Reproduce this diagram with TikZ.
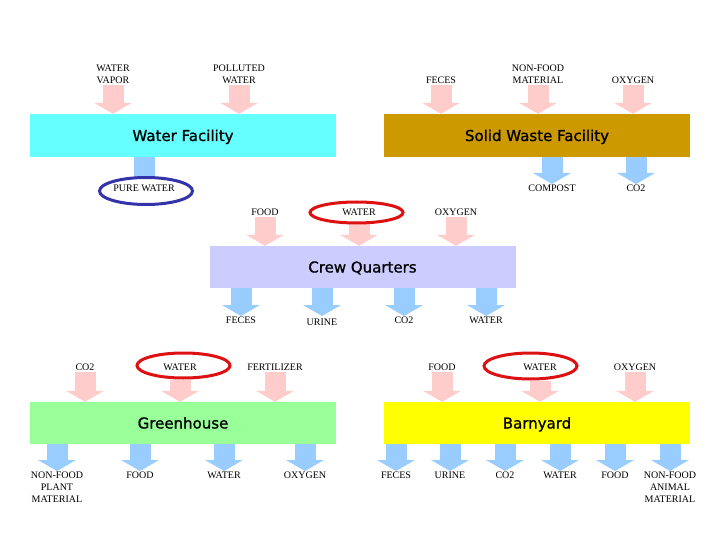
\documentclass[tikz,border=0pt]{standalone}
\usepackage{fontspec}
\setmainfont{Liberation Serif}
\newfontfamily\ecotitlefont[FakeBold=1]{DejaVu Sans}
\usepackage{xcolor}
\usepackage{tikz}
\usetikzlibrary{positioning,arrows.meta,shapes.geometric,backgrounds,calc}
\definecolor{ecoWater}{RGB}{102,255,255}
\definecolor{ecoWaste}{RGB}{204,153,0}
\definecolor{ecoCrew}{RGB}{204,204,255}
\definecolor{ecoGreen}{RGB}{153,255,153}
\definecolor{ecoBarn}{RGB}{255,255,0}
\definecolor{ecoIn}{RGB}{255,204,204}
\definecolor{ecoOut}{RGB}{153,204,255}
\definecolor{ecoRed}{RGB}{221,17,17}
\definecolor{ecoBlue}{RGB}{51,51,170}
\tikzset{
  eco/box/.style={rectangle, minimum width=306pt, minimum height=43pt, inner sep=0pt,
                  text height=11pt, text depth=0pt,
                  font=\ecotitlefont\fontsize{15}{18}\selectfont},
  eco/lbl/.style={font=\fontsize{10}{12}\selectfont, align=center, inner sep=1pt},
  eco/in lbl/.style={eco/lbl, anchor=south},
  eco/out lbl/.style={eco/lbl, anchor=north},
  eco/in arrow/.style={draw=ecoIn, line width=21pt,
                       -{Triangle[length=11pt, width=38pt, line width=0pt]}},
  eco/out arrow/.style={eco/in arrow, draw=ecoOut},
  eco/ring/.style={ellipse, draw=ecoRed, line width=3pt, minimum width=93pt,
                   minimum height=24pt, inner sep=0pt},
}

\begin{document}
\begin{tikzpicture}[x=1pt, y=-1pt]
  \useasboundingbox (0,0) rectangle (720,540);

  % ---------------- facilities ----------------
  \node[eco/box, fill=ecoWater] (water) at (183,135.5) {Water Facility};
  \node[eco/box, fill=ecoWaste] (waste) at (537,135.5) {Solid Waste Facility};
  \node[eco/box, fill=ecoCrew, minimum height=42pt] (crew) at (362.5,267) {Crew Quarters};
  \node[eco/box, fill=ecoGreen, minimum height=42pt] (green) at (183,423) {Greenhouse};
  \node[eco/box, fill=ecoBarn, minimum height=42pt] (barn) at (537,423) {Barnyard};

  % ---------------- highlight rings ----------------
  \node[eco/ring, draw=ecoBlue, fill=white, minimum height=27pt] (ringPure) at (146,191) {};
  \node[eco/ring, minimum height=21pt] (ringCrew) at (356.5,212.5) {};
  \node[eco/ring, minimum height=25pt] (ringGreen) at (183.5,365.5) {};
  \node[eco/ring, minimum height=26pt] (ringBarn) at (530.5,366) {};

  % ---------------- water / solid waste labels ----------------
  \node[eco/in lbl] (wfVapor) at (113,85) {WATER\\VAPOR};
  \node[eco/in lbl] (wfPolluted) at (239,85) {POLLUTED\\WATER};
  \node[eco/in lbl] (swFeces) at (441,85) {FECES};
  \node[eco/in lbl] (swNonFood) at (538,85) {NON-FOOD\\MATERIAL};
  \node[eco/in lbl] (swOxygen) at (633,85) {OXYGEN};

  \node[eco/out lbl] (wfPure) at (144,184) {PURE WATER};
  \node[eco/out lbl] (swCompost) at (552,184) {COMPOST};
  \node[eco/out lbl] (swCO) at (636,184) {CO2};

  % ---------------- crew quarters labels ----------------
  \node[eco/in lbl] (cqFood) at (265,217) {FOOD};
  \node[eco/in lbl] (cqWater) at (359,217) {WATER};
  \node[eco/in lbl] (cqOxygen) at (456,217) {OXYGEN};

  \node[eco/out lbl] (cqFeces) at (241,316) {FECES};
  \node[eco/out lbl] (cqUrine) at (322,318) {URINE};
  \node[eco/out lbl] (cqCO) at (404,316) {CO2};
  \node[eco/out lbl] (cqWaterOut) at (486,316) {WATER};

  % ---------------- greenhouse labels ----------------
  \node[eco/in lbl] (ghCO) at (85,372) {CO2};
  \node[eco/in lbl] (ghWater) at (180,372) {WATER};
  \node[eco/in lbl] (ghFert) at (275,372) {FERTILIZER};

  \node[eco/out lbl] (ghNonFood) at (57,471) {NON-FOOD\\PLANT\\MATERIAL};
  \node[eco/out lbl] (ghFood) at (140,471) {FOOD};
  \node[eco/out lbl] (ghWaterOut) at (224,471) {WATER};
  \node[eco/out lbl] (ghOxygen) at (305,471) {OXYGEN};

  % ---------------- barnyard labels ----------------
  \node[eco/in lbl] (byFood) at (442,372) {FOOD};
  \node[eco/in lbl] (byWater) at (540,372) {WATER};
  \node[eco/in lbl] (byOxygen) at (635,372) {OXYGEN};

  \node[eco/out lbl] (byFeces) at (396,471) {FECES};
  \node[eco/out lbl] (byUrine) at (450,471) {URINE};
  \node[eco/out lbl] (byCO) at (505,471) {CO2};
  \node[eco/out lbl] (byWaterOut) at (560,471) {WATER};
  \node[eco/out lbl] (byFoodOut) at (615,471) {FOOD};
  \node[eco/out lbl] (byNonFood) at (670,471) {NON-FOOD\\ANIMAL\\MATERIAL};

  % ---------------- block arrows (behind everything) ----------------
  \begin{scope}[on background layer]
    \fill[white] (0,0) rectangle (720,540);

    \draw[eco/in arrow] (wfVapor) -- (water.north -| wfVapor);
    \draw[eco/in arrow] (wfPolluted) -- (water.north -| wfPolluted);
    \draw[eco/in arrow] (swFeces) -- (waste.north -| swFeces);
    \draw[eco/in arrow] (swNonFood) -- (waste.north -| swNonFood);
    \draw[eco/in arrow] (swOxygen) -- (waste.north -| swOxygen);
    % head hidden under the blue ring, as drawn
    \draw[eco/out arrow] (water.south -| wfPure) -- (wfPure.center);
    \draw[eco/out arrow] (waste.south -| swCompost) -- (swCompost);
    \draw[eco/out arrow] (waste.south -| swCO) -- (swCO);

    \draw[eco/in arrow] (cqFood) -- (crew.north -| cqFood);
    \draw[eco/in arrow] (ringCrew.south -| cqWater) -- (crew.north -| cqWater);
    \draw[eco/in arrow] (cqOxygen) -- (crew.north -| cqOxygen);
    \draw[eco/out arrow] (crew.south -| cqFeces) -- (cqFeces);
    \draw[eco/out arrow] (crew.south -| cqUrine) -- ([yshift=2pt]cqUrine.north);
    \draw[eco/out arrow] (crew.south -| cqCO) -- (cqCO);
    \draw[eco/out arrow] (crew.south -| cqWaterOut) -- (cqWaterOut);

    \draw[eco/in arrow] (ghCO) -- (green.north -| ghCO);
    \draw[eco/in arrow] (ringGreen.south -| ghWater) -- (green.north -| ghWater);
    \draw[eco/in arrow] (ghFert) -- (green.north -| ghFert);
    \draw[eco/out arrow] (green.south -| ghNonFood) -- (ghNonFood);
    \draw[eco/out arrow] (green.south -| ghFood) -- (ghFood);
    \draw[eco/out arrow] (green.south -| ghWaterOut) -- (ghWaterOut);
    \draw[eco/out arrow] (green.south -| ghOxygen) -- (ghOxygen);

    \draw[eco/in arrow] (byFood) -- (barn.north -| byFood);
    \draw[eco/in arrow] (ringBarn.south -| byWater) -- (barn.north -| byWater);
    \draw[eco/in arrow] (byOxygen) -- (barn.north -| byOxygen);
    \draw[eco/out arrow] (barn.south -| byFeces) -- (byFeces);
    \draw[eco/out arrow] (barn.south -| byUrine) -- (byUrine);
    \draw[eco/out arrow] (barn.south -| byCO) -- (byCO);
    \draw[eco/out arrow] (barn.south -| byWaterOut) -- (byWaterOut);
    \draw[eco/out arrow] (barn.south -| byFoodOut) -- (byFoodOut);
    \draw[eco/out arrow] (barn.south -| byNonFood) -- (byNonFood);
  \end{scope}

\end{tikzpicture}
\end{document}
